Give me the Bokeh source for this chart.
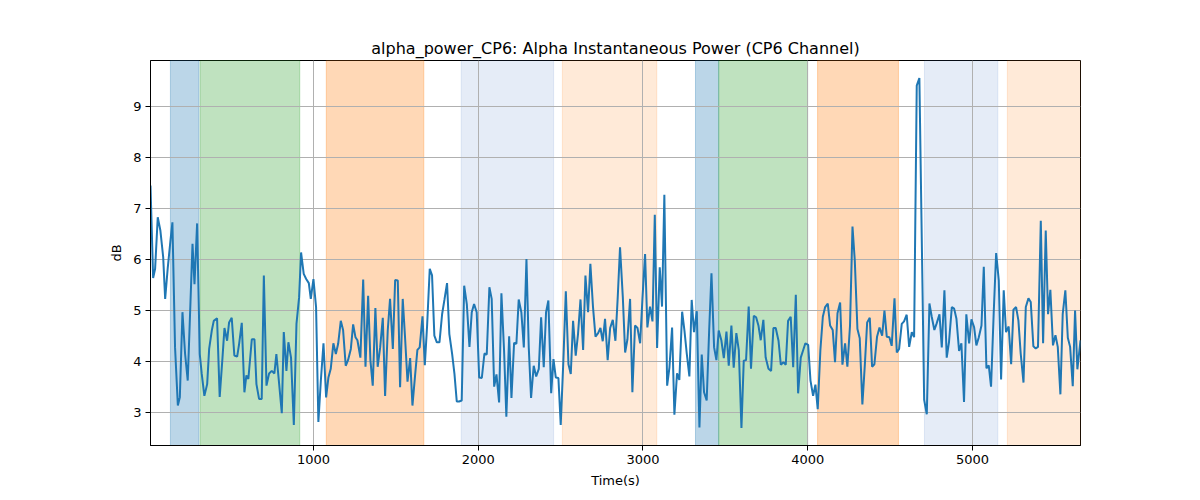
from bokeh.plotting import figure
from bokeh.models import Range1d, FixedTicker, BoxAnnotation, ColumnDataSource
from bokeh.embed import file_html
from bokeh.resources import INLINE

# ---- data ----
times = [
    11, 27, 39, 55, 71, 88, 100, 116, 132, 144, 160, 177, 189, 205, 221, 237, 249, 266, 278, 294,
    310, 322, 338, 355, 367, 383, 395, 415, 431, 448, 460, 476, 488, 504, 520, 537, 549, 565, 581, 593,
    605, 626, 642, 654, 670, 686, 699, 715, 731, 747, 763, 775, 792, 808, 820, 836, 848, 864, 881, 897,
    913, 925, 941,
    956, 972, 984, 1000, 1016, 1030, 1045, 1061, 1077, 1091, 1105, 1121, 1136, 1150, 1166, 1180, 1196,
    1210, 1227, 1241, 1255, 1267, 1285, 1302, 1316, 1332, 1346, 1360, 1376, 1390, 1405, 1421, 1435,
    1451, 1465, 1482, 1496, 1512, 1526, 1542, 1556, 1571, 1587, 1601, 1617, 1631, 1645, 1662, 1676,
    1690, 1706, 1720, 1734, 1749, 1765, 1781, 1795, 1811, 1825, 1842, 1856, 1870, 1884,
    1900, 1915, 1931, 1947, 1961, 1975, 1991, 2006, 2022, 2038, 2052, 2068, 2082, 2097, 2111, 2127,
    2141, 2157, 2171, 2188, 2202, 2218, 2232, 2246, 2262, 2277, 2293, 2307, 2321, 2337, 2352, 2368,
    2382, 2398, 2412, 2426, 2443, 2457, 2471, 2487, 2501, 2517, 2532, 2548, 2562, 2576, 2592, 2606,
    2621, 2637, 2651, 2667, 2681, 2697, 2712, 2728, 2742, 2756, 2770, 2786, 2801, 2817,
    2833, 2847, 2861, 2878, 2892, 2906, 2922, 2936, 2952, 2967, 2983, 2997, 3013, 3027, 3043, 3058,
    3072, 3086, 3102, 3116, 3130, 3147, 3161, 3177, 3191, 3207, 3221, 3238, 3252, 3266, 3282, 3296,
    3310, 3327, 3343, 3357, 3371, 3387, 3402, 3416, 3432, 3446, 3460, 3476, 3491, 3507, 3521, 3537,
    3551, 3567, 3582, 3598, 3612, 3626, 3642, 3656, 3673, 3687, 3701, 3715, 3731, 3745, 3762,
    3778, 3792, 3806, 3823, 3837, 3853, 3867, 3881, 3897, 3912, 3928, 3942, 3958, 3972, 3986, 4003,
    4017, 4033, 4047, 4061, 4077, 4092, 4106, 4122, 4136, 4152, 4166, 4181, 4197, 4211, 4227, 4241,
    4257, 4272, 4286, 4302, 4316, 4332, 4347, 4361, 4377, 4391, 4405, 4421, 4436, 4452, 4466, 4480,
    4496, 4510, 4527, 4541, 4555, 4571, 4585, 4601, 4616, 4632, 4646, 4662, 4678,
    4707, 4723, 4739, 4753, 4769, 4783, 4800, 4814, 4830, 4844, 4858, 4875, 4889, 4903, 4919, 4933,
    4949, 4963, 4980, 4994, 5010, 5024, 5038, 5055, 5069, 5085, 5099, 5113, 5129, 5144, 5160, 5174,
    5190, 5204, 5220, 5235, 5249, 5265, 5279, 5293, 5310, 5324, 5340, 5354, 5370, 5384, 5398, 5415,
    5429, 5445, 5459, 5473, 5489, 5504, 5518, 5534, 5548, 5564, 5579, 5593, 5609, 5623, 5637, 5656,
]

power_db = [
    7.45, 5.64, 5.82, 6.83, 6.57, 6.05, 5.23, 5.85, 6.37, 6.73, 4.28, 3.14, 3.30, 4.97, 4.15, 3.63, 4.74, 6.31, 5.52, 6.71,
    4.15, 3.76, 3.33, 3.56, 4.25, 4.61, 4.80, 4.85, 3.31, 4.08, 4.66, 4.41, 4.77, 4.86, 4.12, 4.10, 4.35, 4.76, 3.40, 3.73,
    3.66, 4.44, 4.44, 3.56, 3.27, 3.27, 5.69, 3.53, 3.77, 3.82, 3.77, 4.15, 3.56, 2.99, 4.58, 3.82, 4.38, 4.08, 2.76, 4.74,
    5.26, 6.14, 5.72,
    5.62, 5.54, 5.23, 5.62, 5.07, 2.82, 3.63, 4.36, 3.30, 3.69, 3.86, 4.36, 4.15, 4.35, 4.80, 4.62, 3.92,
    4.03, 4.25, 4.73, 4.48, 4.42, 4.08, 5.61, 3.90, 5.29, 4.02, 3.53, 5.05, 3.90, 4.28, 4.86, 3.33,
    4.61, 5.23, 4.25, 5.60, 5.59, 3.50, 5.23, 4.48, 3.61, 4.07, 3.14, 3.73, 4.23, 4.28, 4.89, 3.93,
    4.71, 5.82, 5.69, 4.51, 4.38, 4.38, 4.93, 5.21, 5.54, 4.54, 4.15, 3.76, 3.22, 3.22,
    3.24, 5.49, 5.13, 4.29, 4.97, 5.13, 4.97, 3.69, 3.68, 4.16, 4.14, 5.46, 5.23, 3.51, 3.75, 3.20,
    5.34, 4.23, 2.92, 4.50, 3.29, 4.37, 4.35, 5.22, 4.97, 4.28, 6.01, 4.28, 3.29, 3.92, 3.71, 3.86,
    4.87, 3.89, 4.97, 5.20, 3.38, 4.05, 3.69, 3.68, 2.76, 4.02, 5.38, 3.95, 3.76, 4.80, 4.12, 4.54,
    5.22, 4.23, 5.69, 4.97, 5.92, 5.07, 4.49, 4.56, 4.66, 4.40, 4.84, 4.03, 4.66, 4.82,
    4.41, 5.26, 6.24, 5.26, 4.18, 4.44, 5.23, 3.40, 4.71, 4.66, 4.36, 5.23, 6.11, 4.67, 5.08, 4.79,
    6.88, 4.27, 5.85, 5.08, 7.27, 3.53, 3.89, 4.67, 2.96, 3.77, 3.64, 4.98, 4.61, 4.16, 3.71, 5.21,
    4.58, 4.99, 2.71, 4.14, 3.40, 3.24, 4.61, 5.73, 4.28, 4.03, 4.61, 4.42, 4.07, 4.59, 3.92, 4.71,
    3.88, 4.56, 4.22, 2.70, 4.02, 4.03, 5.08, 3.86, 4.90, 4.87, 4.71, 4.42, 4.82, 4.08, 3.86,
    3.82, 4.66, 4.66, 4.41, 3.94, 3.99, 3.94, 4.80, 4.88, 3.89, 5.31, 3.38, 4.08, 4.22, 4.36, 4.33,
    3.63, 3.33, 3.55, 3.07, 4.22, 4.88, 5.07, 5.14, 4.71, 4.62, 3.99, 4.95, 5.16, 3.94, 4.36, 3.90,
    4.71, 6.65, 5.98, 4.64, 4.46, 3.16, 3.94, 4.77, 4.86, 3.90, 3.95, 4.49, 4.67, 4.51, 5.00, 4.49,
    4.48, 4.31, 5.24, 4.18, 4.25, 4.74, 4.79, 4.92, 4.29, 4.58, 4.48, 9.41, 9.56,
    3.25, 2.97, 5.14, 4.88, 4.62, 4.75, 4.93, 4.28, 5.40, 4.08, 4.39, 5.07, 5.04, 4.84, 4.21, 4.36,
    3.21, 4.93, 4.36, 4.83, 4.68, 4.32, 4.47, 4.71, 5.86, 3.87, 3.93, 3.51, 4.94, 6.13, 5.59, 3.65,
    5.40, 4.58, 4.69, 3.95, 5.02, 5.07, 4.81, 4.16, 3.59, 5.07, 5.24, 5.17, 4.30, 4.26, 4.29, 6.76,
    4.36, 6.57, 4.93, 5.41, 4.32, 4.52, 4.29, 3.36, 4.93, 5.40, 4.47, 4.29, 3.52, 5.00, 3.85, 4.42,
]

band_starts = [132, 312, 1078, 1897, 2511, 3319, 3460, 4060, 4709, 5212]
band_ends = [305, 917, 1670, 2458, 3084, 3460, 4000, 4551, 5154, 5656]
band_kinds = ["A", "B", "C", "D", "E", "A", "B", "C", "D", "E"]

x_ticks = [1000, 2000, 3000, 4000, 5000]
y_ticks = [3, 4, 5, 6, 7, 8, 9]

title_text = "alpha_power_CP6: Alpha Instantaneous Power (CP6 Channel)"
x_label = "Time(s)"
y_label = "dB"

# ---- styles ----
band_style = {
    "A": ("#1f77b4", 0.3),
    "B": ("#2ca02c", 0.3),
    "C": ("#ff7f0e", 0.3),
    "D": ("#4a78c8", 0.14),
    "E": ("#ff7f0e", 0.16),
}

FONT = "DejaVu Sans"

p = figure(
    width=1192, height=492,
    output_backend="svg", toolbar_location=None,
    x_range=Range1d(times[0], times[-1]),
    y_range=Range1d(2.357, 9.903),
    min_border_left=150, min_border_right=112,
    min_border_top=60, min_border_bottom=47,
    background_fill_color="white", border_fill_color="white",
)

for s, e, k in zip(band_starts, band_ends, band_kinds):
    c, a = band_style[k]
    p.add_layout(BoxAnnotation(left=s, right=e, fill_color=c, fill_alpha=a,
                               line_color=c, line_alpha=a, line_width=1, level="image"))

src = ColumnDataSource(dict(t=times, v=power_db))
p.line("t", "v", source=src, line_color="#1f77b4", line_width=2)

p.title.text = title_text
p.title.align = "center"
p.title.text_font = FONT
p.title.text_font_size = "16px"
p.title.text_font_style = "normal"
p.title.text_color = "black"
p.title.standoff = 6

p.xaxis.ticker = FixedTicker(ticks=x_ticks)
p.yaxis.ticker = FixedTicker(ticks=y_ticks)
p.xgrid.ticker = FixedTicker(ticks=x_ticks)
p.ygrid.ticker = FixedTicker(ticks=y_ticks)
p.grid.grid_line_color = "#b0b0b0"
p.grid.grid_line_width = 1

p.xaxis.axis_label = x_label
p.yaxis.axis_label = y_label
for ax in (p.xaxis, p.yaxis):
    ax.axis_label_text_font = FONT
    ax.axis_label_text_font_size = "13px"
    ax.axis_label_text_font_style = "normal"
    ax.axis_label_text_color = "black"
    ax.major_label_text_font = FONT
    ax.major_label_text_font_size = "13px"
    ax.major_label_text_color = "black"
    ax.major_tick_out = 5
    ax.major_tick_in = 0
    ax.minor_tick_out = 0
    ax.minor_tick_in = 0
    ax.major_tick_line_color = "black"
    ax.axis_line_color = "black"
    ax.major_label_standoff = 4
    ax.axis_label_standoff = 6

p.outline_line_color = "black"
p.outline_line_width = 1
p.outline_line_alpha = 1

open("out.html", "w").write(file_html(p, INLINE))
